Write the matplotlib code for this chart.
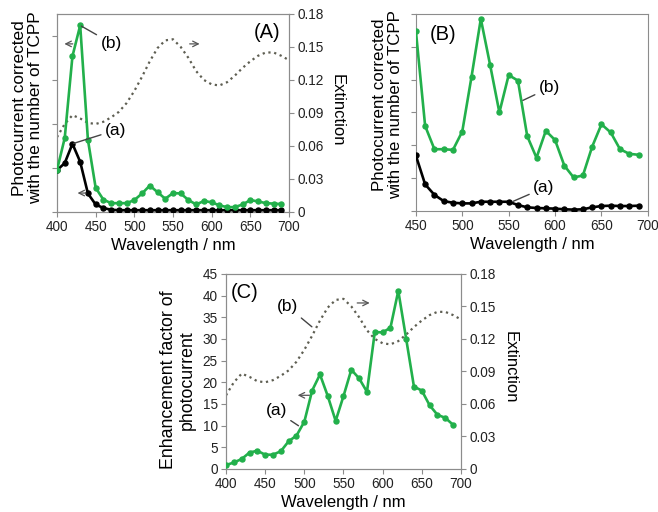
import numpy as np
import matplotlib
matplotlib.use("Agg")
import matplotlib.pyplot as plt

plt.rcParams['font.family'] = ['Liberation Sans', 'DejaVu Sans']

GREEN = '#22b04b'
DOT = '#5e5e52'
SPINE = '#8c8c8c'

# Panel A: photocurrent corrected with number of TCPP (arb. units, 400-690 nm)
wl_a = np.arange(400, 700, 10)
pc_a_a = [0.95, 1.11, 1.55, 1.14, 0.42, 0.17, 0.09, 0.05, 0.04, 0.04,
          0.04, 0.04, 0.04, 0.04, 0.04, 0.04, 0.04, 0.04, 0.04, 0.04,
          0.04, 0.04, 0.04, 0.04, 0.04, 0.04, 0.04, 0.04, 0.04, 0.04]
pc_a_b = [0.95, 1.68, 3.54, 4.24, 1.64, 0.55, 0.28, 0.20, 0.20, 0.20,
          0.27, 0.42, 0.60, 0.45, 0.30, 0.43, 0.42, 0.27, 0.17, 0.25,
          0.22, 0.15, 0.11, 0.11, 0.17, 0.27, 0.24, 0.20, 0.19, 0.18]

# Panel B (450-690 nm)
wl_b = np.arange(450, 700, 10)
pc_b_a = [1.69, 0.81, 0.49, 0.30, 0.25, 0.23, 0.23, 0.28, 0.28, 0.28,
          0.28, 0.18, 0.11, 0.09, 0.08, 0.07, 0.05, 0.04, 0.05, 0.11,
          0.15, 0.16, 0.15, 0.15, 0.16]
pc_b_b = [5.49, 2.59, 1.88, 1.88, 1.86, 2.42, 4.09, 5.85, 4.45, 3.00,
          4.14, 3.97, 2.28, 1.62, 2.44, 2.16, 1.38, 1.02, 1.08, 1.96,
          2.64, 2.39, 1.88, 1.74, 1.71]

# Panel C: enhancement factor (400-690 nm)
wl_c = np.arange(400, 700, 10)
enh_c = [0.9, 1.5, 2.3, 3.8, 4.2, 3.3, 3.3, 4.1, 6.4, 7.7,
         10.9, 18.1, 21.8, 16.8, 11.1, 16.8, 22.9, 20.9, 17.8, 31.6,
         31.5, 32.6, 41.1, 30.1, 19.0, 18.1, 14.7, 12.5, 11.8, 10.2]

# Extinction spectrum (400-700 nm)
wl_ext = np.arange(400, 710, 10)
ext = [0.068, 0.080, 0.088, 0.085, 0.081, 0.080, 0.082, 0.086, 0.091, 0.099,
       0.110, 0.123, 0.137, 0.149, 0.156, 0.157, 0.150, 0.140, 0.128, 0.120,
       0.116, 0.115, 0.118, 0.124, 0.131, 0.137, 0.142, 0.145, 0.145, 0.142,
       0.138]
ext_ticks = ['0', '0.03', '0.06', '0.09', '0.12', '0.15', '0.18']

LABEL_FS = 12


def style_axes(ax):
    for s in ax.spines.values():
        s.set_color(SPINE)
    ax.tick_params(direction='out', length=3.5, pad=2.5, color=SPINE,
                   labelsize=9.8, labelcolor='#222222')


def pc_line(ax, x, y, color):
    ax.plot(x, y, color=color, lw=1.9, marker='o', ms=3.6, zorder=3)


def arrow(ax, x0, x1, y):
    ax.annotate('', xy=(x1, y), xytext=(x0, y),
                arrowprops=dict(arrowstyle='->', color='#555555', lw=0.9))


def leader(ax, text, xt, yt, xp, yp):
    ax.annotate(text, xy=(xp, yp), xytext=(xt, yt), fontsize=12.5,
                ha='center', va='center',
                arrowprops=dict(arrowstyle='-', color='#444444', lw=1.0,
                                shrinkA=1, shrinkB=1))


fig = plt.figure(figsize=(6.58, 5.12), dpi=100)

# ---- (A)
axA = fig.add_axes([0.0866, 0.586, 0.3526, 0.3867])
pc_line(axA, wl_a, pc_a_a, 'black')
pc_line(axA, wl_a, pc_a_b, GREEN)
axA.set_xlim(400, 700)
axA.set_ylim(0, 4.5)
axA.set_xticks(range(400, 701, 50))
axA.set_yticks(range(0, 5))
axA.set_yticklabels([])
axA.set_xlabel('Wavelength / nm', fontsize=LABEL_FS, labelpad=3)
axA.set_ylabel('Photocurrent corrected\nwith the number of TCPP', fontsize=12.4,
               linespacing=1.12)
axA.yaxis.set_label_coords(-0.058, 0.525)
style_axes(axA)
axA2 = axA.twinx()
axA2.plot(wl_ext, ext, ls=':', color=DOT, lw=1.6)
axA2.set_ylim(0, 0.18)
axA2.set_yticks(np.arange(0, 0.181, 0.03))
axA2.set_yticklabels(ext_ticks)
axA2.set_ylabel('Extinction', fontsize=LABEL_FS, rotation=270)
axA2.yaxis.set_label_coords(1.24, 0.515)
style_axes(axA2)
axA.set_zorder(axA2.get_zorder() + 1)
axA.patch.set_visible(False)
axA.text(671, 4.07, '(A)', fontsize=14.5, ha='center', va='center')
leader(axA, '(b)', 470, 3.84, 430, 4.24)
leader(axA, '(a)', 476, 1.86, 420, 1.55)
arrow(axA, 424, 406, 3.82)
arrow(axA, 441, 423, 0.43)
arrow(axA, 568, 588, 3.82)

# ---- (B)
axB = fig.add_axes([0.632, 0.588, 0.3526, 0.3847])
pc_line(axB, wl_b, pc_b_a, 'black')
pc_line(axB, wl_b, pc_b_b, GREEN)
axB.set_xlim(450, 700)
axB.set_ylim(0, 6)
axB.set_xticks(range(450, 701, 50))
axB.set_yticks(range(0, 7))
axB.set_yticklabels([])
axB.set_xlabel('Wavelength / nm', fontsize=LABEL_FS, labelpad=3)
axB.set_ylabel('Photocurrent corrected\nwith the number of TCPP', fontsize=12.2,
               linespacing=1.12)
axB.yaxis.set_label_coords(-0.055, 0.54)
style_axes(axB)
axB.text(479, 5.36, '(B)', fontsize=14.5, ha='center', va='center')
leader(axB, '(b)', 594, 3.75, 564, 3.35)
leader(axB, '(a)', 588, 0.70, 553, 0.27)

# ---- (C)
axC = fig.add_axes([0.3435, 0.084, 0.357, 0.381])
axC.plot(wl_c, enh_c, color=GREEN, lw=1.9, marker='o', ms=3.6, zorder=3)
axC.set_xlim(400, 700)
axC.set_ylim(0, 45)
axC.set_xticks(range(400, 701, 50))
axC.set_yticks(range(0, 46, 5))
axC.set_xlabel('Wavelength / nm', fontsize=LABEL_FS, labelpad=3)
axC.set_ylabel('Enhancement factor of\nphotocurrent', fontsize=12.8,
               linespacing=1.15)
axC.yaxis.set_label_coords(-0.128, 0.456)
style_axes(axC)
axC2 = axC.twinx()
axC2.plot(wl_ext, ext, ls=':', color=DOT, lw=1.6)
axC2.set_ylim(0, 0.18)
axC2.set_yticks(np.arange(0, 0.181, 0.03))
axC2.set_yticklabels(ext_ticks)
axC2.set_ylabel('Extinction', fontsize=LABEL_FS, rotation=270)
axC2.yaxis.set_label_coords(1.24, 0.52)
style_axes(axC2)
axC.set_zorder(axC2.get_zorder() + 1)
axC.patch.set_visible(False)
axC.text(424, 40.8, '(C)', fontsize=14.5, ha='center', va='center')
leader(axC, '(b)', 479, 37.4, 511, 32.6)
leader(axC, '(a)', 464, 13.4, 494, 9.8)
arrow(axC, 564, 587, 38.3)
arrow(axC, 510, 488, 17.0)

fig.savefig('out.png', dpi=100)
